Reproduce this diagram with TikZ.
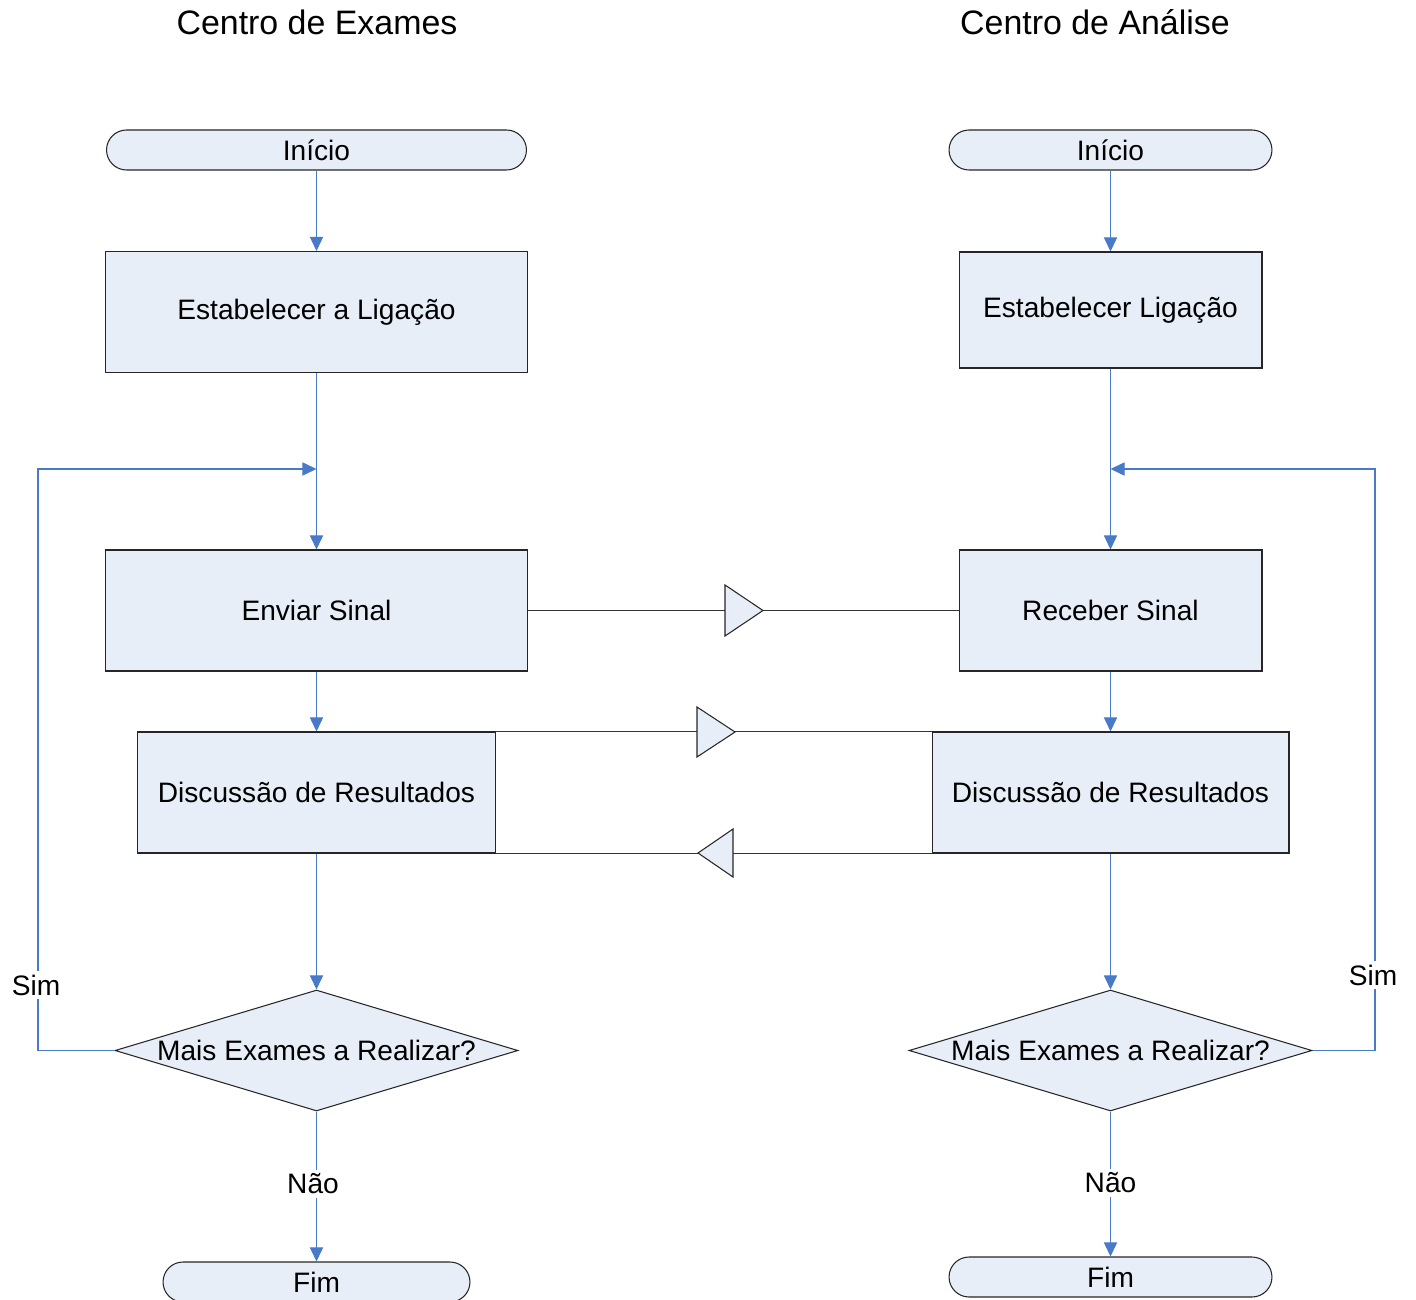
\documentclass[tikz,border=0pt]{standalone}
\usepackage{fontspec}
\setmainfont{Liberation Sans}
\usetikzlibrary{arrows.meta,shapes.geometric}

\definecolor{boxfill}{RGB}{232,238,248}
\definecolor{flowblue}{RGB}{72,122,200}

\tikzset{
  box/.style={draw=black!85, line width=0.6pt, fill=boxfill, font=\fontsize{16}{19}\selectfont},
  term/.style={box, rounded corners=0.4cm, minimum height=0.8cm, inner sep=0pt},
  decision/.style={box, diamond, aspect=3.33, inner sep=0pt, minimum width=8.06cm, minimum height=2.42cm},
  flow/.style={draw=flowblue, line width=0.6pt, ->, >={Triangle[length=8pt,width=7.5pt]}},
  link/.style={draw=black!80, line width=0.6pt},
  tri/.style={draw=black!85, line width=0.6pt, fill=boxfill, line join=miter},
  lbl/.style={fill=white, inner sep=2pt, font=\fontsize{16}{19}\selectfont},
  title/.style={font=\fontsize{19.3}{23}\selectfont}
}

\begin{document}
\begin{tikzpicture}[x=0.02cm, y=-0.02cm]
\useasboundingbox (0,0) rectangle (1416,1300);

\node[title] (titleL) at (317,22) {Centro de Exames};
\node[title] (titleR) at (1095,22) {Centro de Análise};

% Centro de Exames
\node[term, minimum width=8.4cm] (inicioL) at (316.5,150) {Início};
\node[box, minimum width=8.46cm, minimum height=2.42cm] (ligL) at (316.5,312) {Estabelecer a Ligação};
\node[box, minimum width=8.46cm, minimum height=2.42cm] (enviar) at (316.5,610.5) {Enviar Sinal};
\node[box, minimum width=7.18cm, minimum height=2.42cm] (discL) at (316.5,792.5) {Discussão de Resultados};
\node[decision] (maisL) at (316.5,1050.5) {Mais Exames a Realizar?};
\node[term, minimum width=6.14cm] (fimL) at (316.5,1282) {Fim};

% Centro de Analise
\node[term, minimum width=6.46cm] (inicioR) at (1110.5,150) {Início};
\node[box, minimum width=6.06cm, minimum height=2.32cm] (ligR) at (1110.5,310) {Estabelecer Ligação};
\node[box, minimum width=6.06cm, minimum height=2.42cm] (receber) at (1110.5,610.5) {Receber Sinal};
\node[box, minimum width=7.14cm, minimum height=2.42cm] (discR) at (1110.5,792.5) {Discussão de Resultados};
\node[decision] (maisR) at (1110.5,1050.5) {Mais Exames a Realizar?};
\node[term, minimum width=6.46cm] (fimR) at (1110.5,1277) {Fim};

\coordinate (mergeL) at (316.5,469);
\coordinate (cornL) at (38,469);
\coordinate (mergeR) at (1110.5,469);
\coordinate (cornR) at (1375,469);

\draw[flow] (inicioL) -- (ligL);
\draw[flow] (ligL) -- (enviar);
\draw[flow] (enviar) -- (discL);
\draw[flow] (discL) -- (maisL);
\draw[flow] (maisL) -- (fimL);
\draw[flow] (maisL.west) -| (cornL) -- (mergeL);

\draw[flow] (inicioR) -- (ligR);
\draw[flow] (ligR) -- (receber);
\draw[flow] (receber) -- (discR);
\draw[flow] (discR) -- (maisR);
\draw[flow] (maisR) -- (fimR);
\draw[flow] (maisR.east) -| (cornR) -- (mergeR);

\node[lbl] (simL) at (36,985) {Sim};
\node[lbl] (naoL) at (313,1184) {Não};
\node[lbl] (simR) at (1373,975) {Sim};
\node[lbl] (naoR) at (1110.5,1183) {Não};

% sinais entre os centros
\draw[link] (enviar.east) -- (receber.west);
\draw[link] (discL.north east) -- (discR.north west);
\draw[link] (discR.south west) -- (discL.south east);

\filldraw[tri] (725,585) -- (763,610.5) -- (725,636) -- cycle;
\filldraw[tri] (697,707) -- (735,732) -- (697,757) -- cycle;
\filldraw[tri] (733,829) -- (698,853) -- (733,877) -- cycle;
\end{tikzpicture}
\end{document}
